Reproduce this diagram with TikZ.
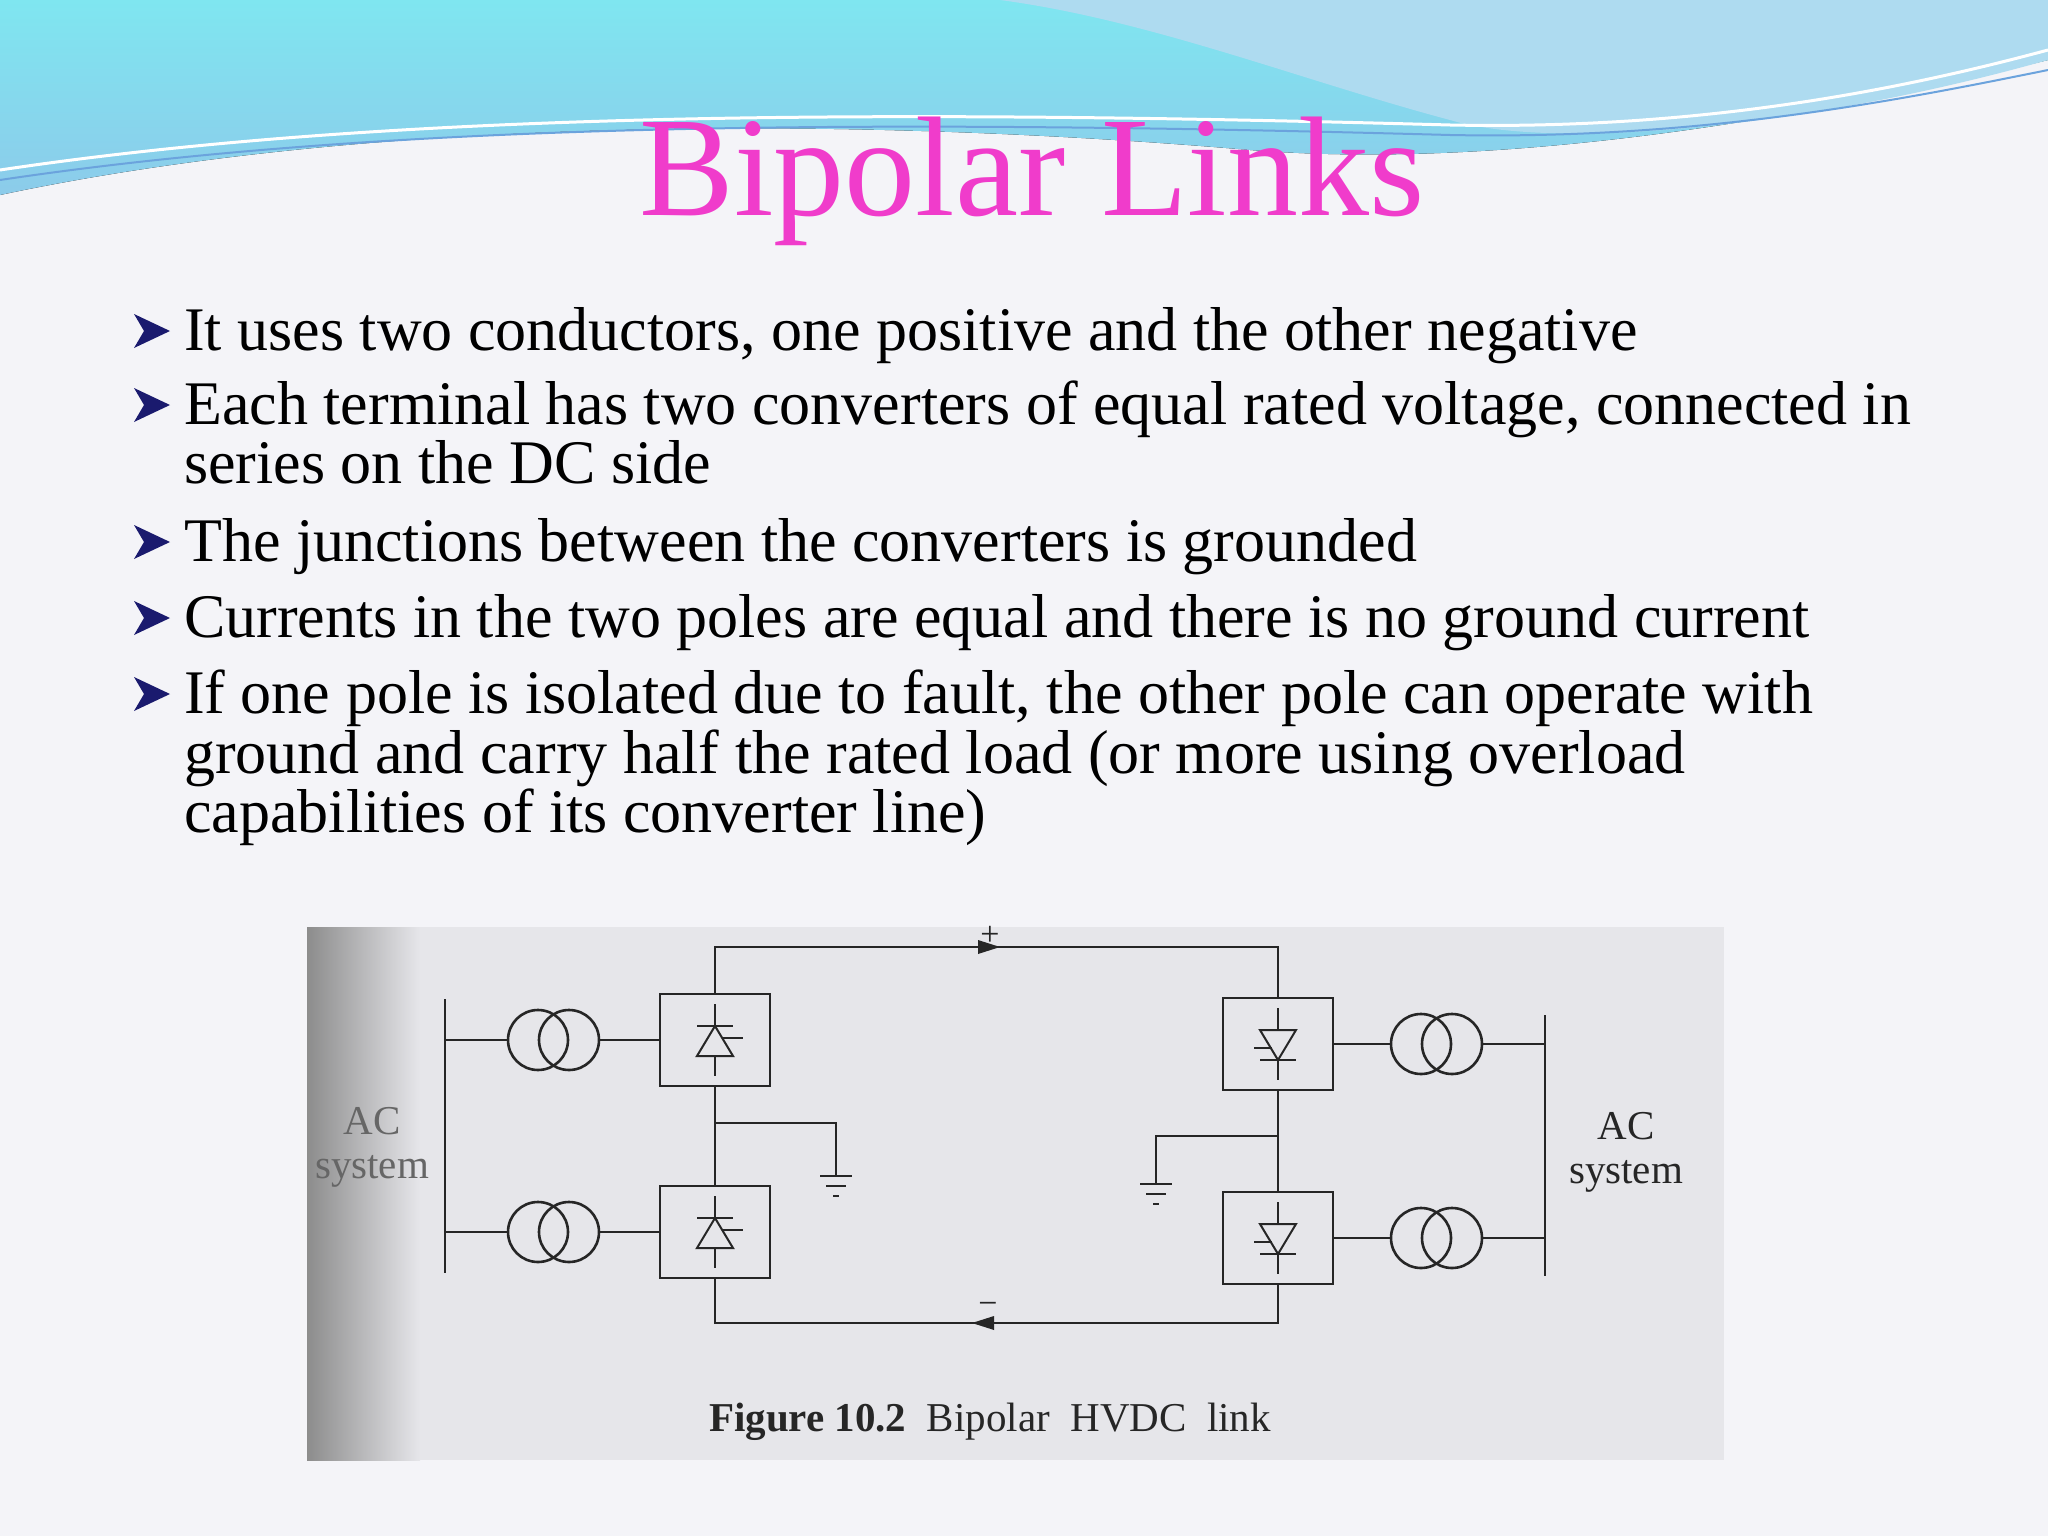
\documentclass[tikz,border=0pt]{standalone}
\usepackage{fontspec}
\setmainfont{Liberation Serif}
\usetikzlibrary{arrows.meta,calc}
\definecolor{bg}{HTML}{F4F4F8}
\definecolor{titlec}{HTML}{F03CCB}
\definecolor{navy}{HTML}{1A1A6E}
\definecolor{cyanA}{HTML}{7FE6F0}
\definecolor{cyanB}{HTML}{8CCBEA}
\definecolor{paper}{HTML}{E6E6EA}
\tikzset{
  body/.style={anchor=base west,font=\fontsize{62}{60}\selectfont,align=left,inner sep=0pt},
  wire/.style={line width=2.6pt,draw=black!85},
  conv/.style={draw=black!85,line width=2.6pt,minimum width=110pt,minimum height=92pt,inner sep=0pt},
  tcirc/.style={draw=black!85,line width=2.6pt,circle,minimum size=60pt,inner sep=0pt},
  lbl/.style={font=\fontsize{41}{44}\selectfont,align=center,text=black!85}
}
\newcommand{\bul}[1]{\fill[navy] ($(#1)+(-50,-36)$) -- ($(#1)+(-14,-19)$) -- ($(#1)+(-50,-2)$) -- ($(#1)+(-40,-19)$) -- cycle;}
\begin{document}
\begin{tikzpicture}[x=1pt,y=-1pt]
\useasboundingbox (0,0) rectangle (2048,1536);
\fill[bg] (0,0) rectangle (2048,1536);
% top waves
\fill[top color=cyanA,bottom color=cyanB] (0,0) -- (2048,0) -- (2048,60) .. controls (1800,120) and (1500,170) .. (1250,150) .. controls (900,120) and (400,110) .. (0,195) -- cycle;
\fill[cyanB!70!white] (1000,0) -- (2048,0) -- (2048,60) .. controls (1800,130) and (1550,150) .. (1450,120) .. controls (1300,80) and (1150,20) .. (1000,0) -- cycle;
\draw[white,line width=3pt] (0,170) .. controls (400,110) and (900,110) .. (1450,125) .. controls (1700,130) and (1900,90) .. (2048,50);
\draw[cyan!60!blue!60,line width=2pt] (0,180) .. controls (400,120) and (900,120) .. (1450,135) .. controls (1700,140) and (1900,100) .. (2048,70);
% title
\node[anchor=base,font=\fontsize{142}{144}\selectfont,text=titlec,inner sep=0pt] (title) at (1032,215) {Bipolar Links};
% bullets
\coordinate (b1) at (184,350); \coordinate (b2) at (184,424); \coordinate (b3) at (184,561);
\coordinate (b4) at (184,637); \coordinate (b5) at (184,713);
\bul{b1}\bul{b2}\bul{b3}\bul{b4}\bul{b5}
\node[body] (t1) at (b1) {It uses two conductors, one positive and the other negative};
\node[body] (t2) at (b2) {Each terminal has two converters of equal rated voltage, connected in};
\node[body] (t2b) at (184,483) {series on the DC side};
\node[body] (t3) at (b3) {The junctions between the converters is grounded};
\node[body] (t4) at (b4) {Currents in the two poles are equal and there is no ground current};
\node[body] (t5) at (b5) {If one pole is isolated due to fault, the other pole can operate with};
\node[body] (t5b) at (184,773) {ground and carry half the rated load (or more using overload};
\node[body] (t5c) at (184,832) {capabilities of its converter line)};
% figure paper
\fill[paper] (307,927) rectangle (1724,1460);
\shade[left color=black!45,right color=paper] (307,927) rectangle (420,1460);
% buses
\draw[wire] (445,999) -- (445,1273);
\draw[wire] (1545,1015) -- (1545,1276);
% converters
\node[conv] (c1) at (715,1040) {};
\node[conv] (c2) at (715,1232) {};
\node[conv] (c3) at (1278,1044) {};
\node[conv] (c4) at (1278,1238) {};
% transformers
\node[tcirc] (t1a) at (538,1040) {}; \node[tcirc] (t1b) at (569,1040) {};
\node[tcirc] (t2a) at (538,1232) {}; \node[tcirc] (t2b) at (569,1232) {};
\node[tcirc] (t3a) at (1421,1044) {}; \node[tcirc] (t3b) at (1452,1044) {};
\node[tcirc] (t4a) at (1421,1238) {}; \node[tcirc] (t4b) at (1452,1238) {};
\draw[wire] (445,1040) -- (t1a.west); \draw[wire] (t1b.east) -- (c1.west);
\draw[wire] (445,1232) -- (t2a.west); \draw[wire] (t2b.east) -- (c2.west);
\draw[wire] (c3.east) -- (t3a.west); \draw[wire] (t3b.east) -- (1545,1044);
\draw[wire] (c4.east) -- (t4a.west); \draw[wire] (t4b.east) -- (1545,1238);
% dc lines
\coordinate (tl) at (715,947); \coordinate (tr) at (1278,947);
\coordinate (bl) at (715,1323); \coordinate (br) at (1278,1323);
\draw[wire] (c1.north) -- (tl) -- (tr) -- (c3.north);
\draw[wire] (c2.south) -- (bl) -- (br) -- (c4.south);
\draw[wire] (c1.south) -- (c2.north);
\draw[wire] (c3.south) -- (c4.north);
\fill[black!85] (1000,947) -- (978,940) -- (978,954) -- cycle;
\fill[black!85] (972,1323) -- (994,1316) -- (994,1330) -- cycle;
\node[lbl,font=\fontsize{34}{36}\selectfont] (plus) at (990,936) {+};
\node[lbl,font=\fontsize{34}{36}\selectfont] (minus) at (988,1308) {\textminus};
% grounds
\coordinate (g1) at (836,1176); \coordinate (g2) at (1156,1184);
\draw[wire] (715,1123) -- (836,1123) -- (g1);
\draw[wire] (1278,1136) -- (1156,1136) -- (g2);
\foreach \g in {g1,g2}{
  \draw[wire] ($(\g)+(-16,0)$) -- ($(\g)+(16,0)$);
  \draw[wire] ($(\g)+(-10,10)$) -- ($(\g)+(10,10)$);
  \draw[wire] ($(\g)+(-3,20)$) -- ($(\g)+(3,20)$);
}
% thyristor symbols
\foreach \c in {c1,c2}{
  \draw[wire,line width=2pt] ($(\c.center)+(0,-36)$) -- ($(\c.center)+(0,36)$);
  \draw[wire,line width=2pt,fill=paper] ($(\c.center)+(-18,16)$) -- ($(\c.center)+(18,16)$) -- ($(\c.center)+(0,-14)$) -- cycle;
  \draw[wire,line width=2pt] ($(\c.center)+(-18,-14)$) -- ($(\c.center)+(18,-14)$);
  \draw[wire,line width=2pt] ($(\c.center)+(8,-2)$) -- ($(\c.center)+(28,-2)$);
}
\foreach \c in {c3,c4}{
  \draw[wire,line width=2pt] ($(\c.center)+(0,-36)$) -- ($(\c.center)+(0,36)$);
  \draw[wire,line width=2pt,fill=paper] ($(\c.center)+(-18,-14)$) -- ($(\c.center)+(18,-14)$) -- ($(\c.center)+(0,16)$) -- cycle;
  \draw[wire,line width=2pt] ($(\c.center)+(-18,16)$) -- ($(\c.center)+(18,16)$);
  \draw[wire,line width=2pt] ($(\c.center)+(-24,4)$) -- ($(\c.center)+(-6,4)$);
}
% labels
\node[lbl,text=black!60] (acl) at (372,1147) {AC\\system};
\node[lbl] (acr) at (1626,1152) {AC\\system};
\node[lbl,anchor=base] (cap) at (990,1431) {\textbf{Figure 10.2}\enspace Bipolar\enspace HVDC\enspace link};
\end{tikzpicture}
\end{document}
